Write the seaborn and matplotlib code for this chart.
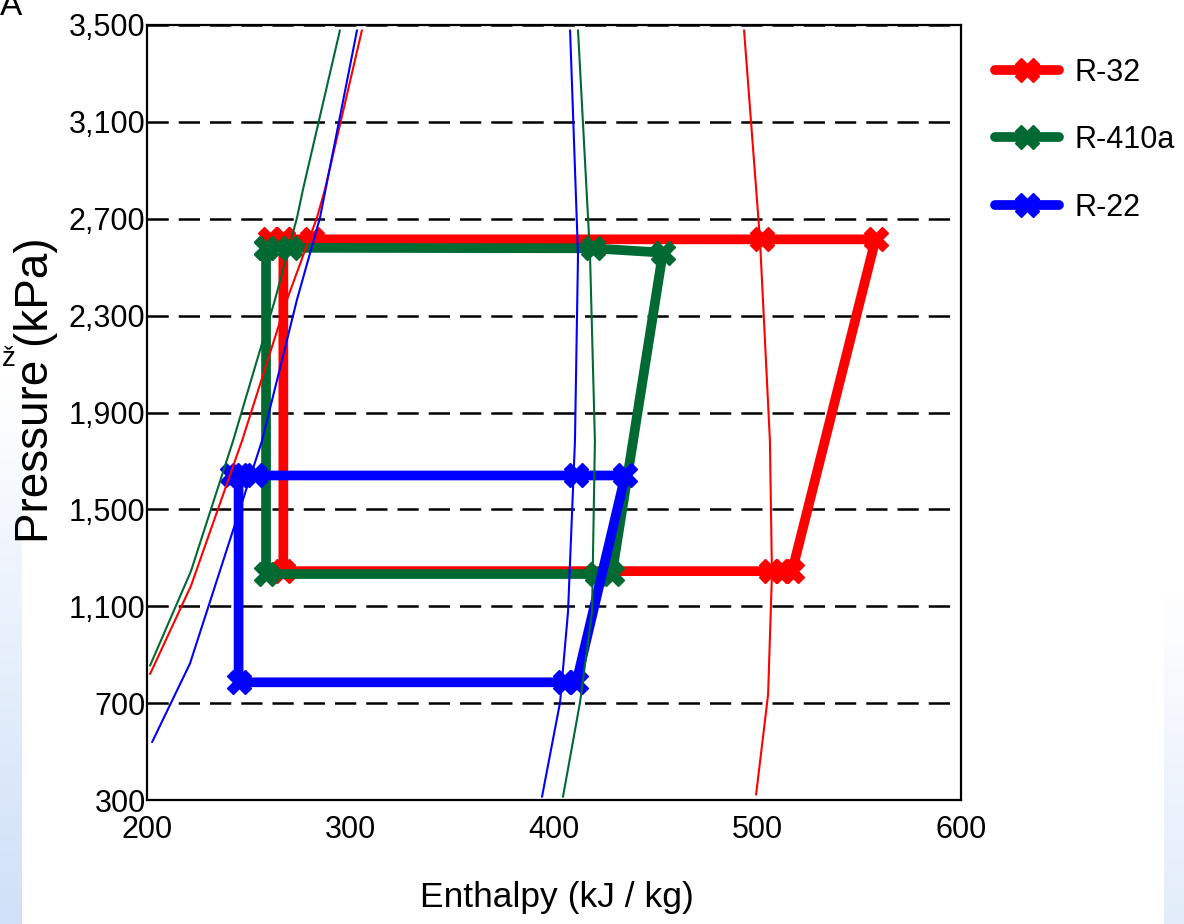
import numpy as np
import pandas as pd
import seaborn as sns
import matplotlib.pyplot as plt

# cycle points (enthalpy kJ/kg, pressure kPa)
r32_h = [260.5, 267, 281, 502, 558, 517, 512, 506.5, 267, 267]
r32_p = [2615, 2615, 2615, 2615, 2615, 1245, 1245, 1245, 1245, 2615]

r410a_h = [258.5, 270.5, 419, 453.5, 428.5, 421, 258.5, 258.5]
r410a_p = [2580, 2580, 2578, 2560, 1233, 1233, 1233, 2580]

r22_h = [242, 253, 411, 435, 411, 405.5, 245, 245]
r22_p = [1640, 1640, 1640, 1640, 786, 786, 786, 1640]

# saturation lines (thin)
r32_liq_h = [201.5, 221.6, 246.7, 268.8, 283.5, 287.5, 305.6]
r32_liq_p = [820, 1184, 1783, 2366, 2704, 2823, 3478]
r32_vap_h = [493.4, 501.2, 506.1, 507.1, 505.2, 499.3]
r32_vap_p = [3478, 2616, 1783, 1233, 735, 322]

r410a_liq_h = [201.5, 221.6, 242.3, 262.9, 273.7, 276.7, 294.8]
r410a_liq_p = [855, 1245, 1783, 2366, 2704, 2823, 3478]
r410a_vap_h = [411.8, 417.7, 420.1, 418.7, 412.8, 404.4]
r410a_vap_p = [3478, 2550, 1783, 1078, 704, 313]

r22_liq_h = [202.5, 221.1, 256.5, 273.7, 285.0, 303.2]
r22_liq_p = [539, 863, 1783, 2366, 2704, 3478]
r22_vap_h = [407.9, 411.8, 410.3, 406.9, 403.0, 394.1]
r22_vap_p = [3478, 2550, 1783, 1078, 704, 313]

x_ticks = [200, 300, 400, 500, 600]
y_ticks = [300, 700, 1100, 1500, 1900, 2300, 2700, 3100, 3500]
y_tick_labels = ["300", "700", "1,100", "1,500", "1,900", "2,300", "2,700", "3,100", "3,500"]

RED = "#ff0000"
GREEN = "#006a32"
BLUE = "#0000ff"

sns.set_style("white")
plt.rcParams["font.family"] = ["Liberation Sans", "DejaVu Sans"]
plt.rcParams["text.color"] = "black"

fig = plt.figure(figsize=(11.84, 9.24), dpi=100)
ax = fig.add_axes([147 / 1184, 1 - 800 / 924, 814 / 1184, 775 / 924])

# light blue slide background at the edges
grad = np.linspace(0, 1, 256).reshape(-1, 1)
cmap = plt.matplotlib.colors.LinearSegmentedColormap.from_list("bg", ["#cfe0f8", "#ffffff"])
bl = fig.add_axes([0, 0, 22 / 1184, 544 / 924], zorder=-5)
bl.imshow(grad, aspect="auto", cmap=cmap, origin="lower")
bl.axis("off")
br = fig.add_axes([1164 / 1184, 0, 20 / 1184, 334 / 924], zorder=-5)
br.imshow(grad, aspect="auto", cmap=cmap, origin="lower", alpha=0.6)
br.axis("off")

cycles = [
    ("R-32", r32_h, r32_p, RED),
    ("R-410a", r410a_h, r410a_p, GREEN),
    ("R-22", r22_h, r22_p, BLUE),
]
for i, (name, h, p, c) in enumerate(cycles):
    sns.lineplot(x=h, y=p, sort=False, estimator=None, color=c, lw=7,
                 marker="X", markersize=17, markeredgecolor=c, markeredgewidth=1,
                 label=name, ax=ax, zorder=3 + i)

domes = [
    (r32_liq_h, r32_liq_p, RED), (r32_vap_h, r32_vap_p, RED),
    (r410a_liq_h, r410a_liq_p, GREEN), (r410a_vap_h, r410a_vap_p, GREEN),
    (r22_liq_h, r22_liq_p, BLUE), (r22_vap_h, r22_vap_p, BLUE),
]
for h, p, c in domes:
    sns.lineplot(x=h, y=p, sort=False, estimator=None, color=c, lw=1.5, ax=ax, zorder=7)

ax.set_xlim(200, 600)
ax.set_ylim(300, 3500)
ax.set_xticks(x_ticks)
ax.set_yticks(y_ticks)
ax.set_yticklabels(y_tick_labels)
ax.tick_params(axis="both", length=0, labelsize=22, colors="black")
ax.tick_params(axis="y", pad=1)
ax.tick_params(axis="x", pad=11)
ax.yaxis.grid(True, color="black", lw=1.8, linestyle=(0, (8.5, 4)))
ax.xaxis.grid(False)
ax.set_axisbelow(True)
for s in ax.spines.values():
    s.set_color("black")
    s.set_linewidth(1.6)
ax.set_xlabel("")
ax.set_ylabel("")

fig.text(557 / 1184, 1 - 897 / 924, "Enthalpy (kJ / kg)", ha="center", va="center",
         fontsize=25.5, color="black")
fig.text(36 / 1184, 1 - 390 / 924, "Pressure (kPa)", ha="center", va="center",
         rotation=90, fontsize=33, color="black")
fig.text(0.0, 1 - 15 / 924, "A", ha="left", va="baseline", fontsize=24, color="black")
fig.text(2 / 1184, 1 - 366 / 924, "ž", ha="left", va="baseline", fontsize=20, color="black")

leg = ax.legend(loc="upper left", bbox_to_anchor=(1.042, 0.958), frameon=False,
                fontsize=22, handlelength=2.1, handletextpad=0.5, labelspacing=1.23,
                borderaxespad=0, borderpad=0, labelcolor="black")

fig.savefig("out.png", dpi=100)
